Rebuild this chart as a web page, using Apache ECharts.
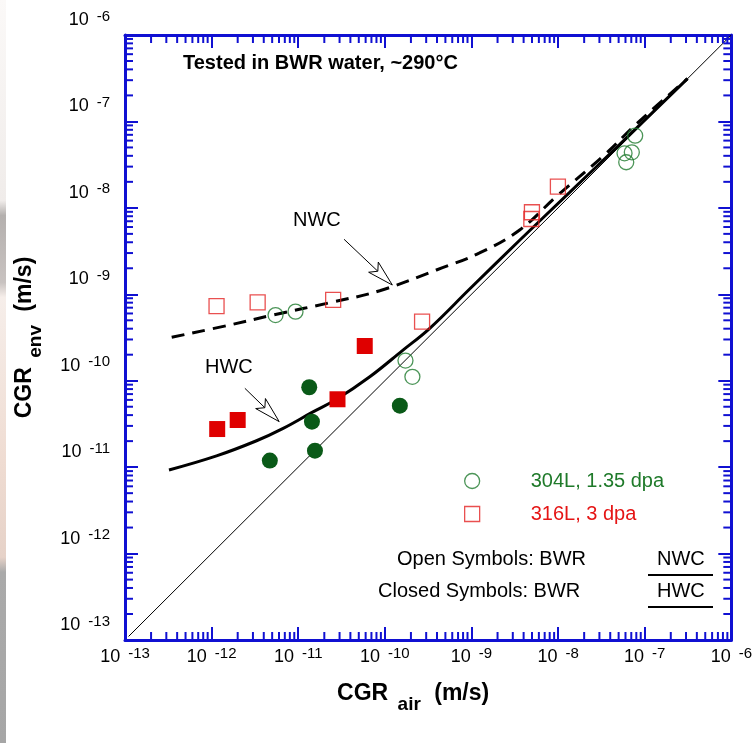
<!DOCTYPE html>
<html><head><meta charset="utf-8">
<script src="https://cdn.jsdelivr.net/npm/echarts@6/dist/echarts.min.js"></script>
<style>html,body{margin:0;padding:0;background:#fff;}#c{width:755px;height:743px;}</style>
</head><body><div id="c"></div>
<script>
// ---- axis range / tick definitions ----
const AXIS_MIN = 1e-13, AXIS_MAX = 1e-6;
const decades = [-13, -12, -11, -10, -9, -8, -7];
const minorMultipliers = [2, 3, 4, 5, 6, 7, 8, 9];

// ---- data: [CGR_air, CGR_env] in m/s ----
const ss304_NWC_open = [[5.47e-12,5.75e-10],[9.3e-12,6.3e-10],[1.73e-10,1.71e-10],[2.08e-10,1.11e-10],
  [7.76e-8,6.84e-8],[7.1e-8,4.39e-8],[5.85e-8,4.28e-8],[6.12e-8,3.37e-8]];
const ss316_NWC_open = [[1.14e-12,7.3e-10],[3.4e-12,8.07e-10],[2.53e-11,8.6e-10],[2.69e-10,4.82e-10],
  [4.99e-9,8.9e-9],[4.91e-9,7.43e-9],[9.95e-9,1.76e-8]];
const ss304_HWC_closed = [[1.34e-11,8.4e-11],[1.44e-11,3.36e-11],[1.56e-11,1.55e-11],[4.7e-12,1.19e-11],[1.49e-10,5.14e-11]];
const ss316_HWC_closed = [[1.16e-12,2.76e-11],[2.0e-12,3.51e-11],[2.84e-11,6.1e-11],[5.86e-11,2.52e-10]];

const curveNWC = [[3.46e-13,3.18e-10],[1.63e-12,4.42e-10],[5.09e-12,5.75e-10],[2.51e-11,8.14e-10],[8.73e-11,1.10e-9],
  [3.94e-10,1.91e-9],[1.24e-9,3.01e-9],[3.6e-9,5.55e-9],[9.53e-9,1.35e-8],[3.26e-8,3.91e-8],
  [7.98e-8,9.3e-8],[3.12e-7,3.13e-7]];
const curveHWC = [[3.22e-13,9.27e-12],[1.14e-12,1.35e-11],[3.3e-12,2.02e-11],[6.7e-12,2.81e-11],[1.445e-11,4.3e-11],
  [2.77e-11,6.1e-11],[6.7e-11,1.11e-10],[1.62e-10,2.26e-10],[3.3e-10,4.04e-10],[9.53e-10,1.15e-9],
  [3.6e-9,4.22e-9],[1.36e-8,1.51e-8],[5.12e-8,5.4e-8],[3.12e-7,3.13e-7]];
const lineOneToOne = [[1.1e-13,1.1e-13],[1e-6,1e-6]];

// arrows: [x_start, y_start, x_tip, y_tip]
const arrows = [[3.38e-11,4.33e-9,1.22e-10,1.28e-9],[2.42e-12,8.17e-11,6.03e-12,3.36e-11]];

// ---- styles ----
const FONT = '"Liberation Sans", Arial, Helvetica, sans-serif';
const BLUE = '#1010d2';
const GREEN_OPEN = '#1f7a2e', GREEN_FILL = '#0a5a18', GREEN_TXT = '#1f7a2a';
const RED_FILL = '#df0000', RED_OPEN = '#e32424', RED_TXT = '#e51515';

const minorTicks = [];
decades.forEach(d => minorMultipliers.forEach(m => {
  const v = m * Math.pow(10, d);
  minorTicks.push([v, AXIS_MIN, 0]);
  minorTicks.push([AXIS_MIN, v, 1]);
}));

const tickRich = {
  a: {fontSize: 18, lineHeight: 22, fontFamily: FONT, color: '#000'},
  b: {fontSize: 15, lineHeight: 14, verticalAlign: 'top', padding: [0, 0, 0, 8], fontFamily: FONT, color: '#000'}
};
function expLabel(v) { const e = Math.round(Math.log10(v)); return '{a|10}{b|' + e + '}'; }

const titleRich = {
  m: {fontSize: 23, fontWeight: 'bold', lineHeight: 26, verticalAlign: 'top', fontFamily: FONT, color: '#000'},
  s: {fontSize: 19, fontWeight: 'bold', lineHeight: 46, verticalAlign: 'middle', fontFamily: FONT, color: '#000', padding: [0, 7, 0, 3]}
};

function axisBase(pos) {
  return {
    type: 'log', logBase: 10, min: AXIS_MIN, max: AXIS_MAX, position: pos,
    axisLine: {show: true, onZero: false, lineStyle: {color: BLUE, width: 3}},
    axisTick: {show: true, inside: true, length: 13, lineStyle: {color: BLUE, width: 2}},
    splitLine: {show: false}, minorTick: {show: false}, minorSplitLine: {show: false},
    axisPointer: {show: false}
  };
}

const xBottom = Object.assign(axisBase('bottom'), {
  axisLabel: {margin: 6, formatter: expLabel, rich: tickRich},
  name: '{m|CGR }{s|air}{m| (m/s)}', nameLocation: 'middle', nameGap: 42,
  nameTextStyle: {rich: titleRich, padding: [0, 30, 0, 0]}
});
const xTop = Object.assign(axisBase('top'), {axisLabel: {show: false}});
const yLeft = Object.assign(axisBase('left'), {
  axisLabel: {margin: 15, formatter: expLabel, rich: tickRich, padding: [0, 0, 30, 0]},
  name: '{m|CGR }{s|env}{m| (m/s)}', nameLocation: 'middle', nameGap: 66,
  nameTextStyle: {rich: titleRich}
});
const yRight = Object.assign(axisBase('right'), {axisLabel: {show: false}});

function textEl(text, x, y, font, fill, align) {
  return {type: 'text', silent: true, z: 10, style: {text: text, x: x, y: y, font: font, fill: fill, align: align || 'left', verticalAlign: 'middle'}};
}

const chart = echarts.init(document.getElementById('c'), null, {renderer: 'canvas'});

const option = {
  animation: false,
  backgroundColor: '#fff',
  grid: {left: 125, right: 23, top: 35, bottom: 103, containLabel: false},
  xAxis: [xBottom, xTop],
  yAxis: [yLeft, yRight],
  legend: {
    orient: 'vertical', left: 464, top: 465, padding: 0, itemGap: 1, itemWidth: 15, itemHeight: 15,
    selectedMode: false,
    textStyle: {fontFamily: FONT, fontSize: 20, lineHeight: 22, padding: [0, 0, 10, 46]},
    data: [
      {name: '304L, 1.35 dpa', icon: 'circle', itemStyle: {color: '#fff', borderColor: GREEN_OPEN, borderWidth: 1.3}, textStyle: {color: GREEN_TXT}},
      {name: '316L, 3 dpa', icon: 'rect', itemStyle: {color: '#fff', borderColor: RED_OPEN, borderWidth: 1.3}, textStyle: {color: RED_TXT}}
    ]
  },
  graphic: [
    {type: 'rect', silent: true, z: 0, shape: {x: 0, y: 0, width: 6, height: 743},
      style: {fill: new echarts.graphic.LinearGradient(0, 0, 0, 1, [
        {offset: 0, color: '#fbf9f8'}, {offset: 0.27, color: '#f0ecea'}, {offset: 0.29, color: '#b4b0ae'},
        {offset: 0.38, color: '#c8c2c0'}, {offset: 0.40, color: '#f6eeea'}, {offset: 0.62, color: '#efdcd2'},
        {offset: 0.75, color: '#e6d2c8'}, {offset: 0.77, color: '#aaaaaa'}, {offset: 1, color: '#a6a6a6'}])}},
    textEl('Tested in BWR water, ~290°C', 183, 63, 'bold 20px ' + FONT, '#000'),
    textEl('NWC', 293, 220, '20px ' + FONT, '#000'),
    textEl('HWC', 205, 367, '20px ' + FONT, '#000'),
    textEl('Open Symbols: BWR', 397, 559, '20px ' + FONT, '#000'),
    textEl('Closed Symbols: BWR', 378, 591, '20px ' + FONT, '#000'),
    textEl('NWC', 657, 559, '20px ' + FONT, '#000'),
    textEl('HWC', 657, 591, '20px ' + FONT, '#000'),
    {type: 'line', silent: true, z: 10, shape: {x1: 648, y1: 575, x2: 713, y2: 575}, style: {stroke: '#000', lineWidth: 2}},
    {type: 'line', silent: true, z: 10, shape: {x1: 648, y1: 607, x2: 713, y2: 607}, style: {stroke: '#000', lineWidth: 2}}
  ],
  series: [
    {type: 'custom', name: 'minorTicks', xAxisIndex: 0, yAxisIndex: 0, silent: true, clip: false, z: 5,
      encode: {x: 0, y: 1}, data: minorTicks,
      renderItem: function (params, api) {
        const kind = api.value(2);
        const st = {stroke: BLUE, lineWidth: 2};
        if (kind === 0) {
          const v = api.value(0);
          const b = api.coord([v, AXIS_MIN]), t = api.coord([v, AXIS_MAX]);
          return {type: 'group', children: [
            {type: 'line', shape: {x1: b[0], y1: b[1], x2: b[0], y2: b[1] - 8}, style: st},
            {type: 'line', shape: {x1: t[0], y1: t[1], x2: t[0], y2: t[1] + 8}, style: st}]};
        }
        const v = api.value(1);
        const l = api.coord([AXIS_MIN, v]), r = api.coord([AXIS_MAX, v]);
        return {type: 'group', children: [
          {type: 'line', shape: {x1: l[0], y1: l[1], x2: l[0] + 8, y2: l[1]}, style: st},
          {type: 'line', shape: {x1: r[0], y1: r[1], x2: r[0] - 8, y2: r[1]}, style: st}]};
      }},
    {type: 'line', name: '1:1', data: lineOneToOne, showSymbol: false, silent: true, z: 2,
      lineStyle: {color: '#000', width: 1}},
    {type: 'line', name: 'NWC', data: curveNWC, showSymbol: false, silent: true, z: 2, smooth: 0.4,
      lineStyle: {color: '#000', width: 3, type: [13, 8]}},
    {type: 'line', name: 'HWC', data: curveHWC, showSymbol: false, silent: true, z: 2, smooth: 0.4,
      lineStyle: {color: '#000', width: 3}},
    {type: 'scatter', name: '304L, 1.35 dpa', data: ss304_NWC_open, symbol: 'circle', symbolSize: 15, z: 3,
      itemStyle: {color: 'rgba(255,255,255,0)', borderColor: GREEN_OPEN, borderWidth: 1.3}},
    {type: 'scatter', name: '316L, 3 dpa', data: ss316_NWC_open, symbol: 'rect', symbolSize: 15, z: 3,
      itemStyle: {color: 'rgba(255,255,255,0)', borderColor: RED_OPEN, borderWidth: 1.3}},
    {type: 'scatter', name: '304L HWC', data: ss304_HWC_closed, symbol: 'circle', symbolSize: 16, z: 3,
      itemStyle: {color: GREEN_FILL, opacity: 1}},
    {type: 'scatter', name: '316L HWC', data: ss316_HWC_closed, symbol: 'rect', symbolSize: 16, z: 3,
      itemStyle: {color: RED_FILL, opacity: 1}},
    {type: 'custom', name: 'arrows', silent: true, clip: false, z: 4, encode: {x: [0, 2], y: [1, 3]}, data: arrows,
      renderItem: function (params, api) {
        const p1 = api.coord([api.value(0), api.value(1)]);
        const p2 = api.coord([api.value(2), api.value(3)]);
        const dx = p2[0] - p1[0], dy = p2[1] - p1[1];
        const len = Math.sqrt(dx * dx + dy * dy);
        const ux = dx / len, uy = dy / len, nx = -uy, ny = ux;
        const L = 26, W = 7, N = 20;
        const base = [p2[0] - N * ux, p2[1] - N * uy];
        const pts = [[p2[0], p2[1]], [p2[0] - L * ux + W * nx, p2[1] - L * uy + W * ny], base,
          [p2[0] - L * ux - W * nx, p2[1] - L * uy - W * ny]];
        return {type: 'group', children: [
          {type: 'line', shape: {x1: p1[0], y1: p1[1], x2: base[0], y2: base[1]}, style: {stroke: '#000', lineWidth: 1}},
          {type: 'polygon', shape: {points: pts}, style: {fill: '#fff', stroke: '#000', lineWidth: 1}}]};
      }}
  ]
};
chart.setOption(option);
</script></body></html>
